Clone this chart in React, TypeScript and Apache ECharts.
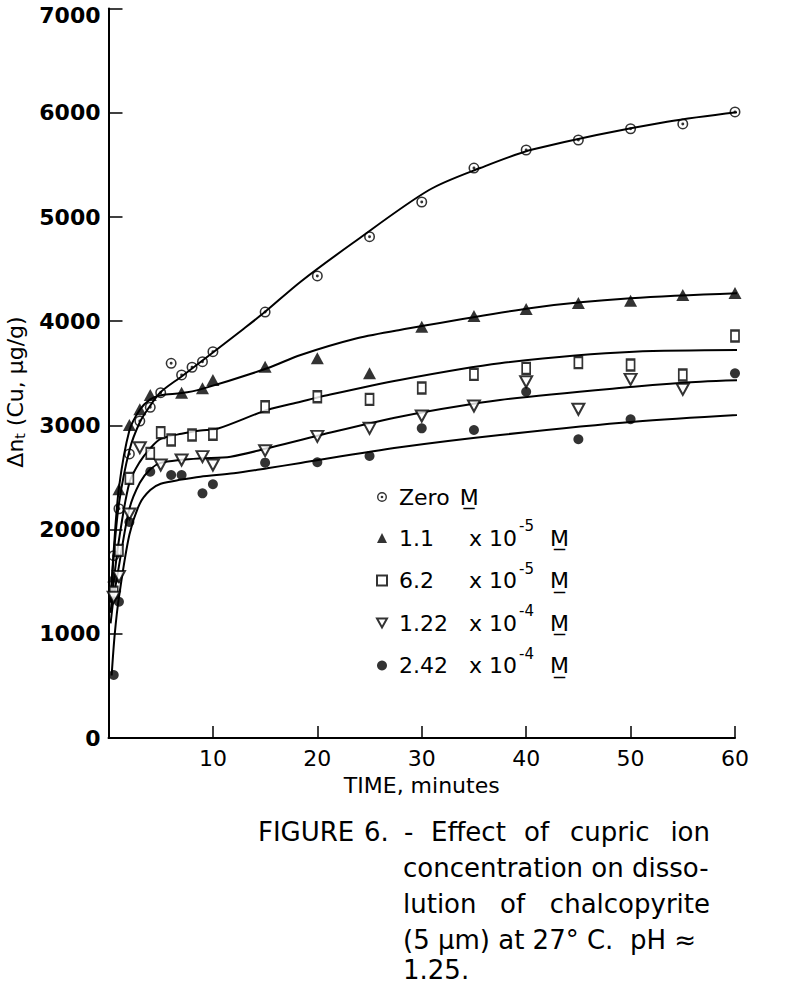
import React, { useEffect, useRef } from "react";
import * as echarts from "echarts";

// ---- data ----
const seriesNames = ["Zero M", "1.1 x 10-5 M", "6.2 x 10-5 M", "1.22 x 10-4 M", "2.42 x 10-4 M"];
const concLabels = ["Zero", "1.1", "6.2", "1.22", "2.42"];
const concExps = ["", "-5", "-5", "-4", "-4"];

// measured points [time (min), Δn_t (µg/g)]
const zeroPts: [number, number][] = [
  [0.5, 1750], [1, 2200], [2, 2726], [3, 3042], [4, 3174], [5, 3314], [6, 3596], [7, 3484],
  [8, 3558], [9, 3611], [10, 3707], [15, 4088], [20, 4434], [25, 4811], [30, 5144],
  [35, 5470], [40, 5643], [45, 5739], [50, 5847], [55, 5893], [60, 6008],
];
const c11Pts: [number, number][] = [
  [0.5, 1550], [1, 2387], [2, 3004], [3, 3154], [4, 3292], [7, 3314], [9, 3356], [10, 3436],
  [15, 3563], [20, 3644], [25, 3500], [30, 3947], [35, 4050], [40, 4117], [45, 4175],
  [50, 4197], [55, 4251], [60, 4271],
];
const c62Pts: [number, number][] = [
  [0.5, 1400], [1, 1800], [2, 2492], [4, 2732], [5, 2930], [6, 2860], [8, 2908], [10, 2915],
  [15, 3179], [20, 3275], [25, 3250], [30, 3359], [35, 3490], [40, 3548], [45, 3602],
  [50, 3580], [55, 3484], [60, 3858],
];
const c122Pts: [number, number][] = [
  [0.5, 1350], [1, 1550], [2, 2150], [3, 2786], [5, 2620], [7, 2668], [9, 2700], [10, 2620],
  [15, 2757], [20, 2895], [25, 2972], [30, 3090], [35, 3186], [40, 3419], [45, 3155],
  [50, 3442], [55, 3346],
];
const c242Pts: [number, number][] = [
  [0.5, 605], [1, 1308], [2, 2073], [4, 2556], [6, 2524], [7, 2524], [9, 2348], [10, 2435],
  [15, 2642], [20, 2646], [25, 2706], [30, 2972], [35, 2956], [40, 3323], [45, 2867],
  [50, 3059], [60, 3500],
];

// hand-drawn fitted curves
const zeroFit: [number, number][] = [
  [0.2, 1300], [0.5, 1750], [1, 2250], [2, 2760], [3, 3030], [4, 3190], [5, 3320], [7, 3470],
  [10, 3700], [12.8, 3916], [15, 4090], [18.4, 4379], [23.4, 4750], [30.7, 5259],
  [35.6, 5470], [40.7, 5650], [53.5, 5915], [64.3, 6053],
];
const c11Fit: [number, number][] = [
  [0.2, 1300], [0.5, 1800], [1, 2400], [2, 2950], [3, 3150], [4, 3250], [5, 3290], [7, 3310],
  [8.8, 3346], [15.2, 3548], [18.4, 3676], [23.8, 3836], [27.9, 3916],
  [40.7, 4130], [50, 4220], [64.3, 4283],
];
const c62Fit: [number, number][] = [
  [0.2, 1200], [0.5, 1500], [1, 1900], [2, 2450], [3, 2650], [4, 2780], [5, 2870], [7, 2920],
  [8.8, 2950], [10.5, 2970], [15.2, 3148], [18.4, 3227], [20.3, 3275],
  [27.9, 3436], [37.5, 3596], [50.3, 3707], [64.3, 3724],
];
const c122Fit: [number, number][] = [
  [0.2, 1100], [0.5, 1350], [1, 1650], [2, 2200], [3, 2450], [4, 2580], [5, 2640], [7, 2670],
  [8.8, 2684], [11.7, 2700], [15.2, 2780], [20.3, 2908], [27.9, 3084],
  [37.5, 3244], [50.3, 3371], [56.7, 3419], [64, 3442],
];
const c242Fit: [number, number][] = [
  [0.3, 600], [0.6, 1000], [1, 1350], [2, 1950], [3, 2250], [4, 2380], [5, 2440], [7, 2480],
  [8.8, 2508], [12, 2540], [15.2, 2588], [18.4, 2640], [27.9, 2790], [37.5, 2908],
  [50.3, 3035], [64.3, 3122],
];

const yTop = 7000;

const FONT = "DejaVu Sans";
const MU = "M\u0332";

const ringSym =
  "path://M0,-6A6,6 0 1,1 0,6A6,6 0 1,1 0,-6Z M0,-4.3A4.3,4.3 0 1,0 0,4.3A4.3,4.3 0 1,0 0,-4.3Z M0,-1.6A1.6,1.6 0 1,1 0,1.6A1.6,1.6 0 1,1 0,-1.6Z";
const downTri = "path://M0,0L10,0L5,9Z";

export default function App() {
  const ref = useRef<HTMLDivElement>(null);
  useEffect(() => {
    if (!ref.current) return;
    const chart = echarts.init(ref.current, null, { renderer: "svg" });

    const fits = [zeroFit, c11Fit, c62Fit, c122Fit, c242Fit];
    const pts = [zeroPts, c11Pts, c62Pts, c122Pts, c242Pts];
    const symbols: any[] = [
      { symbol: ringSym, symbolSize: 11, itemStyle: { color: "#000" } },
      { symbol: "triangle", symbolSize: [13, 12], itemStyle: { color: "#000" } },
      { symbol: "rect", symbolSize: [8, 11], itemStyle: { color: "#fff", borderColor: "#000", borderWidth: 2 } },
      { symbol: downTri, symbolSize: [12, 11], itemStyle: { color: "#fff", borderColor: "#000", borderWidth: 2 } },
      { symbol: "circle", symbolSize: 10, itemStyle: { color: "#000" } },
    ];

    const lineSeries = fits.map((d, i) => ({
      type: "line",
      name: "fit" + i,
      data: d,
      smooth: 0.3,
      showSymbol: false,
      symbol: "none",
      clip: false,
      silent: true,
      z: 2,
      lineStyle: { color: "#000", width: 2 },
    }));
    const scatterSeries = pts.map((d, i) => ({
      type: "scatter",
      name: seriesNames[i],
      data: d,
      clip: false,
      z: 3,
      ...symbols[i],
    }));

    const legendText: Record<string, string> = {};
    seriesNames.forEach((n, i) => {
      legendText[n] =
        i === 0
          ? `{z|${concLabels[i]}}{mz|${MU}}`
          : `{n|${concLabels[i]}}{x|x 10}{sup|${concExps[i]}}{m|${MU}}`;
    });

    const base = { fontFamily: FONT, fontSize: 22, color: "#000", lineHeight: 36 };
    const capStyle = { fontFamily: FONT, fontSize: 26, fill: "#000", verticalAlign: "middle" };
    const cap = (text: string, x: number, y: number, align = "left") => ({
      type: "text",
      x,
      y,
      style: { ...capStyle, text, align },
    });

    chart.setOption({
      animation: false,
      backgroundColor: "#fff",
      grid: { left: 108.5, top: 8.6, width: 626.5, height: 729.4, outerBoundsMode: "none" },
      xAxis: {
        type: "value",
        min: 0,
        max: 60,
        interval: 10,
        axisLine: { show: true, lineStyle: { color: "#000", width: 2 } },
        axisTick: { show: true, inside: true, length: 12, lineStyle: { color: "#000", width: 1.5 } },
        axisLabel: { showMinLabel: false, color: "#000", fontSize: 22, fontFamily: FONT, margin: 9 },
        splitLine: { show: false },
        name: "TIME, minutes",
        nameLocation: "middle",
        nameGap: 36,
        nameTextStyle: { color: "#000", fontSize: 22, fontFamily: FONT },
      },
      yAxis: {
        type: "value",
        min: 0,
        max: yTop,
        interval: 1000,
        axisLine: { show: true, lineStyle: { color: "#000", width: 2 } },
        axisTick: { show: true, inside: true, length: 14, lineStyle: { color: "#000", width: 1.5 } },
        axisLabel: {
          color: "#000",
          fontSize: 22,
          fontWeight: "bold",
          fontFamily: FONT,
          margin: 8,
          formatter: (v: number) => (v === yTop ? `{t|${v}}` : String(v)),
          rich: {
            t: { color: "#000", fontSize: 22, fontWeight: "bold", fontFamily: FONT, padding: [14, 0, 0, 0] },
          },
        },
        splitLine: { show: false },
      },
      legend: {
        data: seriesNames,
        orient: "vertical",
        left: 371,
        top: 474,
        itemGap: 3.5,
        itemWidth: 10,
        itemHeight: 10,
        selectedMode: false,
        formatter: (name: string) => legendText[name],
        textStyle: {
          ...base,
          rich: {
            z: { ...base, padding: [0, 0, 0, 7] },
            n: { ...base, width: 70, padding: [0, 0, 0, 7] },
            x: { ...base },
            sup: { fontFamily: FONT, fontSize: 15, color: "#000", lineHeight: 12, padding: [0, 0, 24, 2] },
            m: { ...base, padding: [0, 0, 0, 16] },
            mz: { ...base, padding: [0, 0, 0, 10] },
          },
        },
      },
      graphic: [
        {
          type: "text",
          x: 15,
          y: 392,
          rotation: Math.PI / 2,
          style: {
            text: "{a|\u0394n}{s|t}{a| (Cu, \u03bcg/g)}",
            align: "center",
            verticalAlign: "middle",
            fill: "#000",
            rich: {
              a: { fontFamily: FONT, fontSize: 22, fill: "#000", lineHeight: 26 },
              s: { fontFamily: FONT, fontSize: 14, fill: "#000", lineHeight: 26, padding: [10, 0, 0, 0] },
            },
          },
        },
        cap("FIGURE", 258, 832),
        cap("6.", 364, 832),
        cap("-", 404, 832),
        cap("Effect", 431, 832),
        cap("of", 524, 832),
        cap("cupric", 570, 832),
        cap("ion", 710, 832, "right"),
        cap("concentration on disso-", 403, 868),
        cap("lution", 403, 904),
        cap("of", 500, 904),
        cap("chalcopyrite", 710, 904, "right"),
        cap("(5 \u03bcm) at 27\u00b0 C.  pH \u2248", 403, 940),
        cap("1.25.", 403, 970),
      ],
      series: [...lineSeries, ...scatterSeries],
    } as any);

    return () => chart.dispose();
  }, []);

  return (
    <div
      ref={ref}
      style={{ position: "fixed", left: 0, top: 0, width: 788, height: 986, background: "#fff" }}
    />
  );
}
